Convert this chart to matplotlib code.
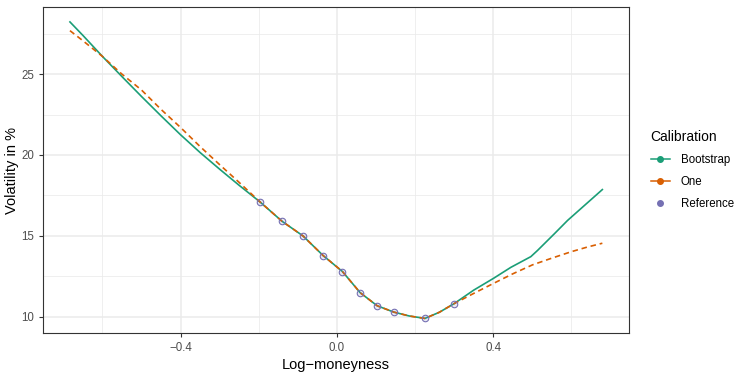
import numpy as np
import matplotlib
matplotlib.use("Agg")
import matplotlib.pyplot as plt
from matplotlib.lines import Line2D

plt.rcParams["font.family"] = ["Liberation Sans", "DejaVu Sans"]

# Reference quotes (log-moneyness, vol in %).
ref_x = [-0.196, -0.1405, -0.0867, -0.0354, 0.0141, 0.0595, 0.1031, 0.1456, 0.2251, 0.2995]
ref_y = [17.08, 15.90, 14.99, 13.78, 12.79, 11.48, 10.67, 10.28, 9.89, 10.80]

# Bootstrap calibration curve.
boot_x = [-0.683, -0.65, -0.6, -0.55, -0.5, -0.45, -0.4, -0.35, -0.3, -0.25,
          -0.196, -0.1405, -0.0867, -0.0354, 0.0141, 0.0595, 0.1031, 0.1456, 0.185, 0.2251,
          0.262, 0.2995, 0.35, 0.4, 0.445, 0.496, 0.513, 0.556, 0.59, 0.624, 0.679]
boot_y = [28.23, 27.4, 26.1, 24.85, 23.62, 22.42, 21.25, 20.15, 19.12, 18.12,
          17.08, 15.90, 14.99, 13.78, 12.79, 11.48, 10.67, 10.28, 10.04, 9.89,
          10.27, 10.80, 11.64, 12.36, 13.05, 13.71, 14.09, 15.12, 15.95, 16.68, 17.86]

# One-step calibration curve.
one_x = [-0.683, -0.65, -0.6, -0.55, -0.5, -0.45, -0.4, -0.35, -0.3, -0.25,
         -0.196, -0.1405, -0.0867, -0.0354, 0.0141, 0.0595, 0.1031, 0.1456, 0.185, 0.2251,
         0.262, 0.2995, 0.351, 0.4, 0.45, 0.5, 0.55, 0.6, 0.64, 0.679]
one_y = [27.69, 27.07, 26.1, 25.0, 24.02, 22.82, 21.7, 20.52, 19.4, 18.3,
         17.08, 15.90, 14.99, 13.78, 12.79, 11.48, 10.67, 10.28, 10.04, 9.89,
         10.27, 10.80, 11.45, 12.05, 12.65, 13.2, 13.62, 14.02, 14.3, 14.54]

green = "#1B9E77"
orange = "#D95F02"
purple = "#7570B3"

fig = plt.figure(figsize=(7.47, 3.74), dpi=100)
ax = fig.add_axes([0.058, 0.109, 0.784, 0.872])

ax.plot(boot_x, boot_y, color=green, lw=1.2, zorder=3)
ax.plot(one_x, one_y, color=orange, lw=1.2, dashes=(3.3, 2.3), zorder=4)
ax.scatter(ref_x, ref_y, s=22, facecolor=(0.46, 0.44, 0.70, 0.15),
           edgecolor=purple, linewidth=0.8, zorder=5)

# ggplot-like expansion of 5%
allx = boot_x + one_x
ally = boot_y + one_y
dx = (max(allx) - min(allx)) * 0.05
dy = (max(ally) - min(ally)) * 0.05
ax.set_xlim(min(allx) - dx, max(allx) + dx)
ax.set_ylim(min(ally) - dy, max(ally) + dy)

ax.set_xticks([-0.4, 0.0, 0.4])
ax.set_xticklabels(["\u22120.4", "0.0", "0.4"])
ax.set_yticks([10, 15, 20, 25])
ax.set_xticks([-0.6, -0.2, 0.2, 0.6], minor=True)
ax.set_yticks([12.5, 17.5, 22.5, 27.5], minor=True)
ax.grid(which="major", color="#EBEBEB", lw=1.1)
ax.grid(which="minor", color="#EBEBEB", lw=0.55)
ax.set_axisbelow(True)
ax.tick_params(which="major", labelsize=8.3, labelcolor="#4D4D4D", color="#333333",
               length=3, width=0.8)
ax.tick_params(which="minor", length=0)
for s in ax.spines.values():
    s.set_color("#333333")
    s.set_linewidth(0.8)

ax.set_xlabel("Log\u2212moneyness", fontsize=10.5, labelpad=3)
ax.set_ylabel("Volatility in %", fontsize=10.5, labelpad=2)

handles = [
    Line2D([], [], color=green, lw=1.1, marker="o", markersize=4),
    Line2D([], [], color=orange, lw=1.1, marker="o", markersize=4),
    Line2D([], [], color=purple, lw=0, marker="o", markersize=4),
]
fig.legend(handles, ["Bootstrap", "One", "Reference"], title="Calibration",
           loc="upper left", bbox_to_anchor=(0.857, 0.68), frameon=False,
           fontsize=8.3, title_fontsize=10, handlelength=1.7, handletextpad=0.9,
           labelspacing=0.88, alignment="left")

fig.savefig("out.png", dpi=100)
